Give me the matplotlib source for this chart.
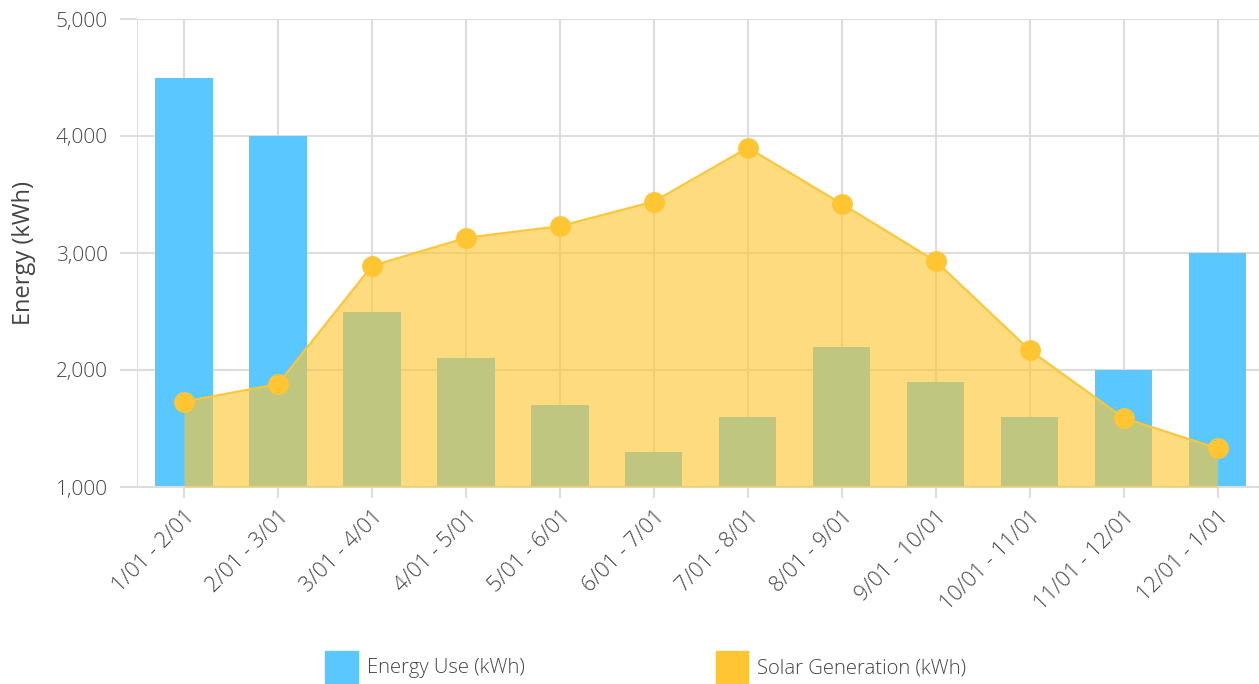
import matplotlib
matplotlib.use("Agg")
import matplotlib.pyplot as plt
from matplotlib.patches import Patch
import numpy as np

periodos = ["1/01 - 2/01", "2/01 - 3/01", "3/01 - 4/01", "4/01 - 5/01", "5/01 - 6/01",
            "6/01 - 7/01", "7/01 - 8/01", "8/01 - 9/01", "9/01 - 10/01", "10/01 - 11/01",
            "11/01 - 12/01", "12/01 - 1/01"]
consumo = [4500, 4000, 2500, 2100, 1700, 1300, 1600, 2200, 1900, 1600, 2000, 3000]
solar = [1730, 1880, 2890, 3130, 3230, 3440, 3900, 3420, 2930, 2170, 1590, 1330]
y_ticks = [1000, 2000, 3000, 4000, 5000]

plt.rcParams["font.family"] = ["Open Sans", "DejaVu Sans"]
plt.rcParams["font.weight"] = "light"
cor_texto = "#444444"
cor_grade = "#dddddd"
azul = "#5ac8ff"
amarelo = "#ffc533"

fig = plt.figure(figsize=(12.59, 6.84), dpi=100)
ax = fig.add_axes([137 / 1259, 1 - 487 / 684, 1 - 137 / 1259, (487 - 19) / 684])

x = np.arange(len(periodos))
ax.bar(x, consumo, width=0.61, color=azul, zorder=2)
ax.fill_between(x, solar, 1000, color=amarelo, alpha=0.62, linewidth=0, zorder=3)
ax.plot(x, solar, color=amarelo, linewidth=1.5, marker="o", markersize=15,
        markeredgewidth=0, zorder=4)

ax.set_xlim(-0.5, 11.44)
ax.set_ylim(1000, 5000)
ax.set_yticks(y_ticks)
ax.set_yticklabels([f"{v:,}" for v in y_ticks])
ax.set_xticks(x)
ax.set_xticklabels(periodos, rotation=45, ha="right", rotation_mode="anchor")

ax.grid(True, color=cor_grade, linewidth=1.5, zorder=0)
ax.set_axisbelow(True)
ax.axvline(-0.5, color=cor_grade, linewidth=1.5, zorder=0)
for s in ["top", "right", "left"]:
    ax.spines[s].set_visible(False)
ax.spines["bottom"].set_color(cor_grade)
ax.spines["bottom"].set_linewidth(1.5)
ax.tick_params(axis="y", length=12, color=cor_grade, width=1.5, labelsize=15,
               labelcolor=cor_texto, pad=9)
ax.tick_params(axis="x", length=8, color=cor_grade, width=1.5, labelsize=15.5,
               labelcolor=cor_texto, pad=6)
ax.set_ylabel("Energy (kWh)", fontsize=17, color=cor_texto, labelpad=14)

handles = [Patch(color=azul, label="Energy Use (kWh)"),
           Patch(color=amarelo, label="Solar Generation (kWh)")]
leg = fig.legend(handles=handles, loc="lower center", bbox_to_anchor=(0.513, -0.025), ncol=2,
                 frameon=False, fontsize=14.6, handlelength=1.6, handleheight=2.05,
                 handletextpad=0.45, columnspacing=9.4)
for t in leg.get_texts():
    t.set_color(cor_texto)

fig.savefig("out.png", dpi=100)
